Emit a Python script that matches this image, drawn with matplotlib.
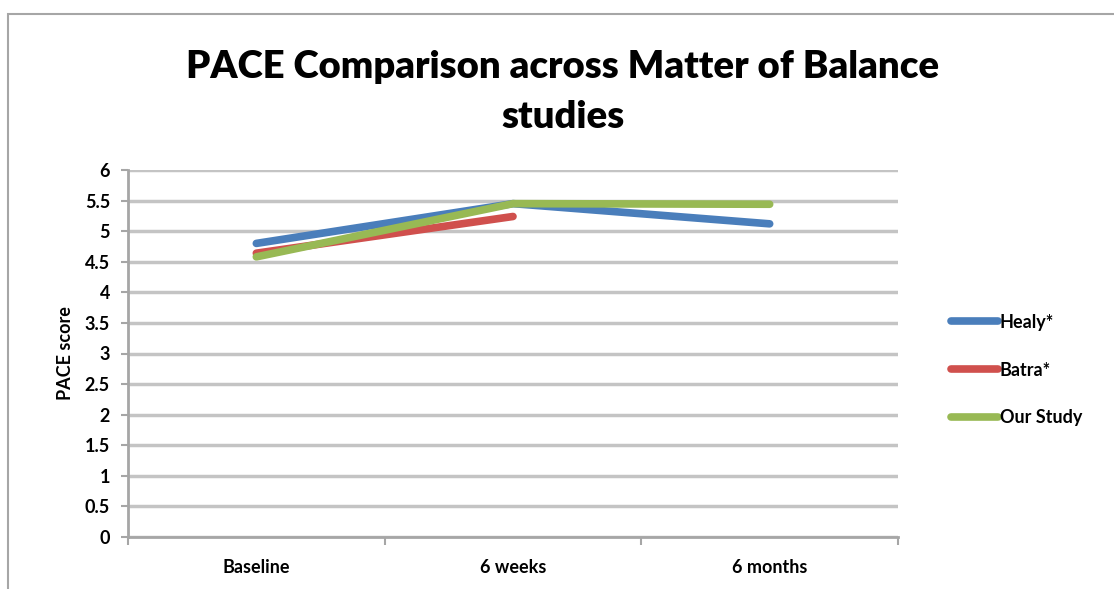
import matplotlib
matplotlib.use("Agg")
import matplotlib.pyplot as plt
from matplotlib.patches import Rectangle

# data
categories = ["Baseline", "6 weeks", "6 months"]
healy = [4.80, 5.45, 5.12]
batra = [4.64, 5.24]
our_study = [4.58, 5.45, 5.44]
yticks = [0, 0.5, 1, 1.5, 2, 2.5, 3, 3.5, 4, 4.5, 5, 5.5, 6]
ytick_labels = ["0", "0.5", "1", "1.5", "2", "2.5", "3", "3.5", "4", "4.5", "5", "5.5", "6"]

plt.rcParams['font.family'] = ['Lato', 'DejaVu Sans']

W, H = 1114, 589
fig = plt.figure(figsize=(W / 100, H / 100), dpi=100)

# outer chart frame (only top and left edges visible)
fig.patches.append(Rectangle((8 / W, -0.1), 1.2, (H - 14) / H + 0.1, transform=fig.transFigure,
                             fill=False, edgecolor="#a6a6a6", linewidth=1.5))

ax = fig.add_axes([128 / W, (H - 537) / H, 770 / W, (537 - 170) / H])

x = range(len(categories))
ax.plot(list(x), healy, color="#4a7ebb", lw=5.5, solid_capstyle="round", label="Healy*")
ax.plot(list(x)[:len(batra)], batra, color="#d0504d", lw=5.5, solid_capstyle="round", label="Batra*")
ax.plot(list(x), our_study, color="#98b954", lw=5.5, solid_capstyle="round", label="Our Study")

ax.set_xlim(-0.5, 2.5)
ax.set_ylim(0, 6)
ax.set_yticks(yticks)
ax.set_yticklabels(ytick_labels, fontsize=13, fontweight="bold")
ax.set_xticks(list(x))
ax.set_xticklabels(categories, fontsize=13, fontweight="bold")
ax.tick_params(axis="x", length=0, pad=16)
ax.set_xticks([-0.5, 0.5, 1.5, 2.5], minor=True)
ax.tick_params(axis="x", which="minor", length=6, width=1.5, color="#a6a6a6", direction="out")
ax.tick_params(axis="y", length=5, width=1.5, color="#a6a6a6", direction="out", pad=8)

ax.grid(axis="y", color="#c4c4c4", lw=2.5)
ax.set_axisbelow(True)
for s in ["top", "right"]:
    ax.spines[s].set_visible(False)
ax.spines["left"].set_color("#a6a6a6")
ax.spines["left"].set_linewidth(2)
ax.spines["bottom"].set_color("#a6a6a6")
ax.spines["bottom"].set_linewidth(2)

ax.set_ylabel("PACE score", fontsize=13, fontweight="bold", labelpad=8)

fig.text(563 / W, 1 - 92 / H, "PACE Comparison across Matter of Balance\nstudies",
         ha="center", va="center", fontsize=27.5, fontweight="heavy", linespacing=1.55)

ax.legend(loc="center left", bbox_to_anchor=(935 / W, 1 - 370 / H), bbox_transform=fig.transFigure,
          frameon=False, handlelength=2.6, handletextpad=0.1, labelspacing=1.7,
          prop={"weight": "bold", "size": 13})

fig.savefig("out.png", dpi=100)
